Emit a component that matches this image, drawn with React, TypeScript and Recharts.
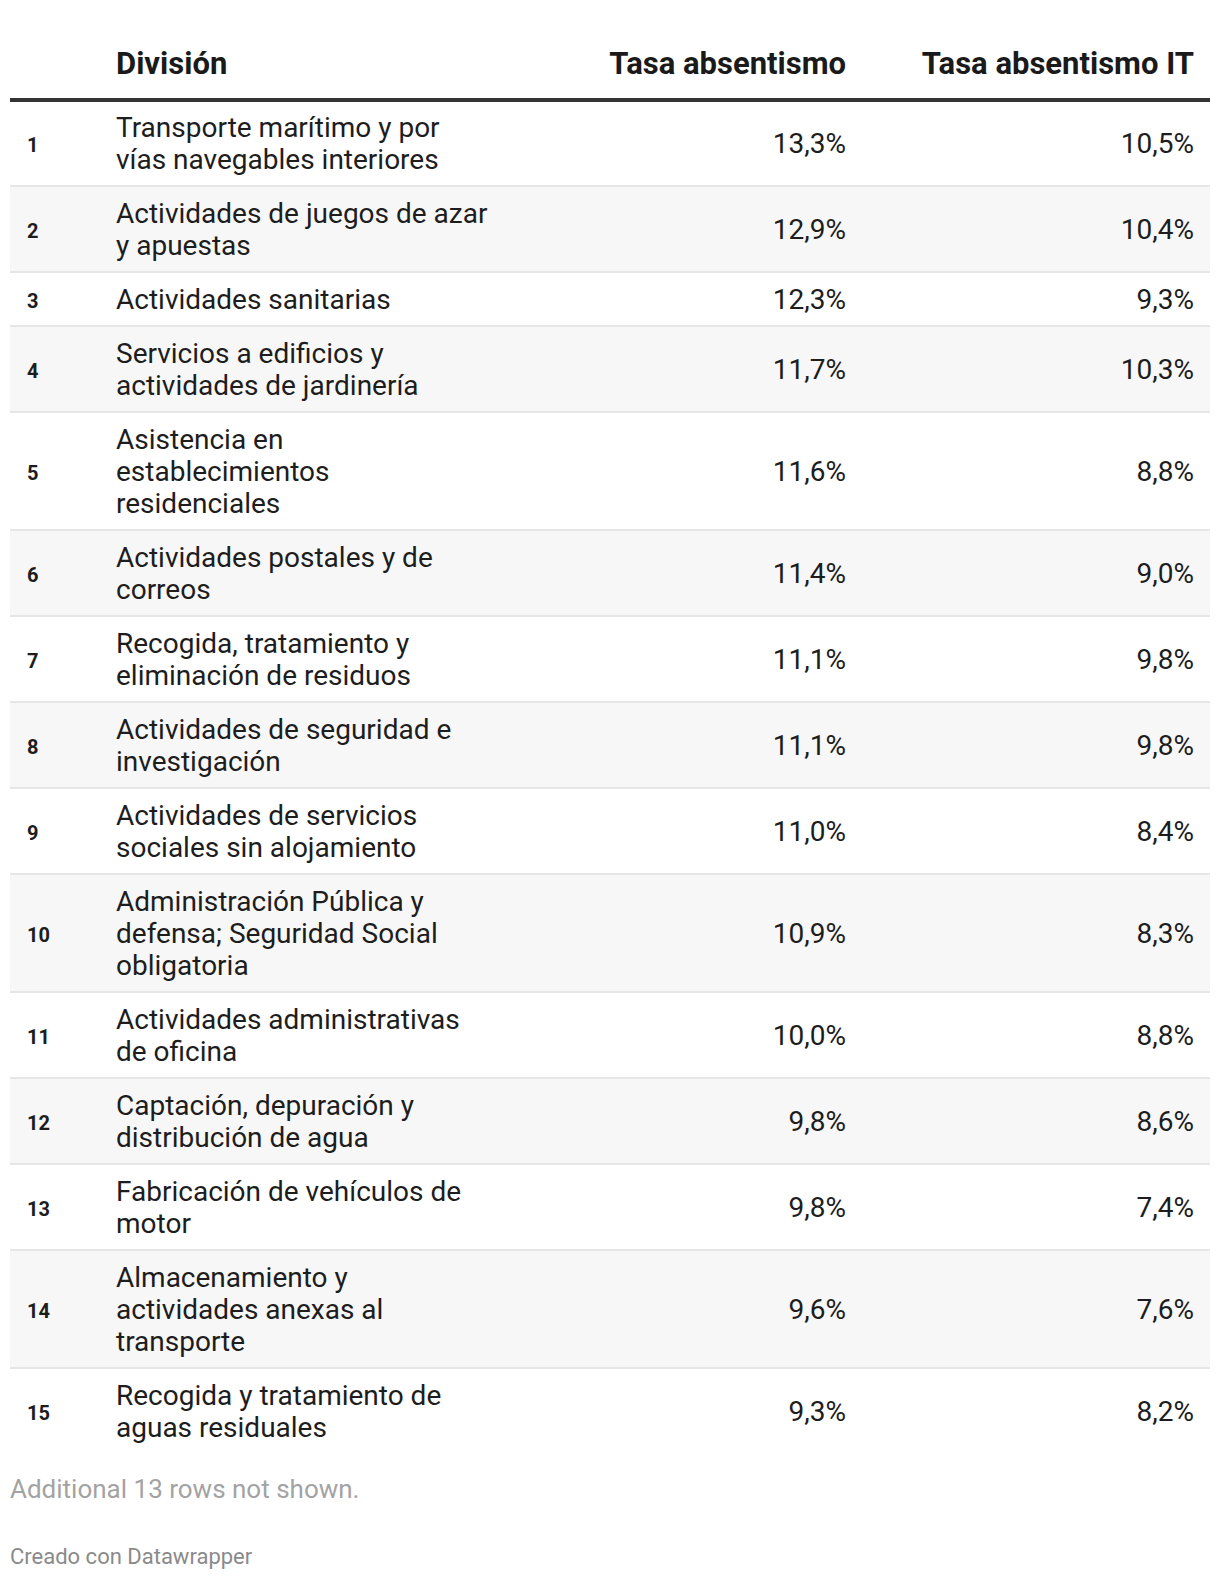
import React from "react";
import {
  ScatterChart,
  Scatter,
  XAxis,
  YAxis,
  ReferenceArea,
  ReferenceLine,
} from "recharts";

// datos de la tabla (15 filas visibles)
const RANKS = [1, 2, 3, 4, 5, 6, 7, 8, 9, 10, 11, 12, 13, 14, 15];
const DIVISIONS = [
  "Transporte marítimo y por\nvías navegables interiores",
  "Actividades de juegos de azar\ny apuestas",
  "Actividades sanitarias",
  "Servicios a edificios y\nactividades de jardinería",
  "Asistencia en\nestablecimientos\nresidenciales",
  "Actividades postales y de\ncorreos",
  "Recogida, tratamiento y\neliminación de residuos",
  "Actividades de seguridad e\ninvestigación",
  "Actividades de servicios\nsociales sin alojamiento",
  "Administración Pública y\ndefensa; Seguridad Social\nobligatoria",
  "Actividades administrativas\nde oficina",
  "Captación, depuración y\ndistribución de agua",
  "Fabricación de vehículos de\nmotor",
  "Almacenamiento y\nactividades anexas al\ntransporte",
  "Recogida y tratamiento de\naguas residuales",
];
const TASA = [13.3, 12.9, 12.3, 11.7, 11.6, 11.4, 11.1, 11.1, 11.0, 10.9, 10.0, 9.8, 9.8, 9.6, 9.3];
const TASA_IT = [10.5, 10.4, 9.3, 10.3, 8.8, 9.0, 9.8, 9.8, 8.4, 8.3, 8.8, 8.6, 7.4, 7.6, 8.2];
const HEADERS = ["División", "Tasa absentismo", "Tasa absentismo IT"];

const WIDTH = 1200;
const LINE_H = 32;
const PAD = 22 / LINE_H; // relleno de cada fila, en unidades de línea
const HEADER_H = 92;
const FONT = "Roboto, 'Noto Sans', sans-serif";

// columnas
const X_RANK = 17;
const X_DIV = 106;
const X_TASA = 836;
const X_IT = 1184;
const HEADER_TICKS = [X_DIV, X_TASA, X_IT];

const fmt = (v: number) => `${v.toFixed(1).replace(".", ",")}%`;

// filas con posición acumulada (en líneas)
let acc = 0;
const rows = RANKS.map((rank, i) => {
  const lines = DIVISIONS[i].split("\n");
  const h = lines.length + PAD;
  const top = acc;
  acc += h;
  return {
    rank,
    lines,
    tasa: TASA[i],
    tasaIT: TASA_IT[i],
    top,
    bottom: top + h,
    mid: top + h / 2,
    x: 0,
  };
});
const TOTAL = acc;
const PLOT_H = TOTAL * LINE_H;

const HeaderTick = ({ payload }: any) => {
  const idx = HEADER_TICKS.indexOf(payload.value);
  if (idx < 0) return null;
  return (
    <text
      x={payload.value}
      y={66}
      textAnchor={idx === 0 ? "start" : "end"}
      fontFamily={FONT}
      fontSize={31}
      fontWeight={700}
      fill="#1a1a1a"
    >
      {HEADERS[idx]}
    </text>
  );
};

const RowShape = (props: any) => {
  const { cy, payload } = props;
  const n = payload.lines.length;
  return (
    <g fontFamily={FONT} fill="#1d1d1d">
      <text x={X_RANK} y={cy + 2} dy="0.35em" fontSize={20} fontWeight={700}>
        {payload.rank}
      </text>
      <text x={X_DIV} fontSize={28}>
        {payload.lines.map((l: string, k: number) => (
          <tspan key={k} x={X_DIV} y={cy + (k - (n - 1) / 2) * LINE_H} dy="0.35em">
            {l}
          </tspan>
        ))}
      </text>
      <text x={X_TASA} y={cy} dy="0.35em" fontSize={28} textAnchor="end">
        {fmt(payload.tasa)}
      </text>
      <text x={X_IT} y={cy} dy="0.35em" fontSize={28} textAnchor="end">
        {fmt(payload.tasaIT)}
      </text>
    </g>
  );
};

export default function App() {
  return (
    <div style={{ marginLeft: 2, width: WIDTH, background: "#fff" }}>
      <ScatterChart
        width={WIDTH}
        height={HEADER_H + PLOT_H}
        margin={{ top: 0, right: 0, bottom: 0, left: 0 }}
      >
        <XAxis
          type="number"
          dataKey="x"
          orientation="top"
          domain={[0, WIDTH]}
          ticks={HEADER_TICKS}
          tick={<HeaderTick />}
          axisLine={false}
          tickLine={false}
          height={HEADER_H}
          allowDataOverflow
        />
        <YAxis type="number" dataKey="mid" domain={[0, TOTAL]} reversed hide width={0} />
        {rows
          .filter((r) => r.rank % 2 === 0)
          .map((r) => (
            <ReferenceArea
              key={`bg-${r.rank}`}
              y1={r.top}
              y2={r.bottom}
              fill="#f7f7f7"
              fillOpacity={1}
              strokeOpacity={0}
            />
          ))}
        {rows.slice(0, -1).map((r) => (
          <ReferenceLine key={`sep-${r.rank}`} y={r.bottom} stroke="#e6e6e6" strokeWidth={2} />
        ))}
        <ReferenceLine y={0} stroke="#333333" strokeWidth={4} />
        <Scatter data={rows} shape={<RowShape />} isAnimationActive={false} />
      </ScatterChart>
      <div
        style={{
          marginTop: 20,
          fontFamily: FONT,
          fontSize: 26,
          lineHeight: "30px",
          color: "#a3a3a3",
        }}
      >
        Additional 13 rows not shown.
      </div>
      <div
        style={{
          marginTop: 40,
          fontFamily: FONT,
          fontSize: 22,
          lineHeight: "26px",
          color: "#8a8a8a",
        }}
      >
        Creado con Datawrapper
      </div>
    </div>
  );
}
